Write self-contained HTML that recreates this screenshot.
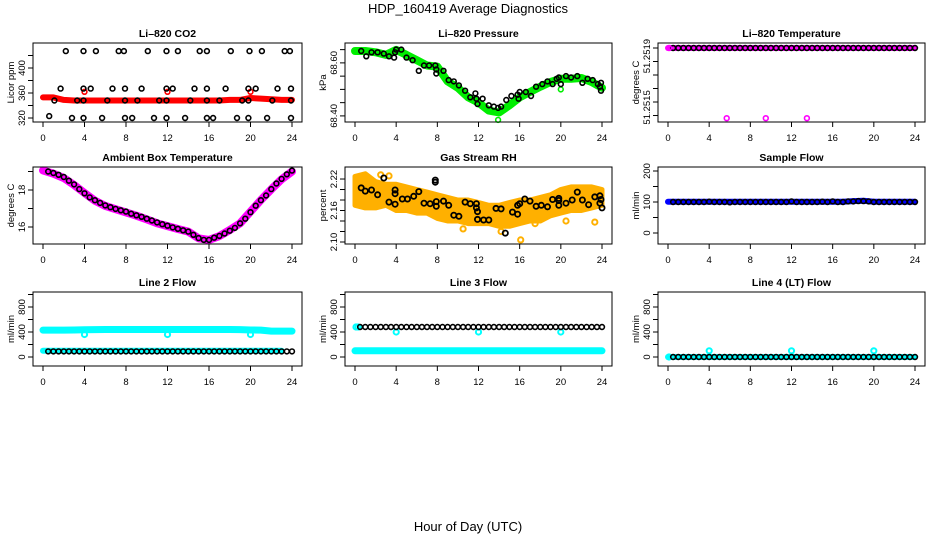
<!DOCTYPE html>
<html><head><meta charset="utf-8">
<style>
html,body{margin:0;padding:0;background:#fff;}
svg{display:block;font-family:"Liberation Sans",Arial,sans-serif;}
</style></head>
<body>
<svg id="fig" width="936" height="540" viewBox="0 0 936 540" xmlns="http://www.w3.org/2000/svg">
<text x="468" y="13" font-size="13" text-anchor="middle">HDP_160419  Average Diagnostics</text>
<text x="468" y="531" font-size="13" text-anchor="middle">Hour of Day (UTC)</text>
</svg>
<script>
// ---------- data ----------
const hours = [0,1,2,3,4,5,6,7,8,9,10,11,12,13,14,15,16,17,18,19,20,21,22,23,24];
const tMark = [0.5,1,1.5,2,2.5,3,3.5,4,4.5,5,5.5,6,6.5,7,7.5,8,8.5,9,9.5,10,10.5,11,11.5,12,12.5,13,13.5,14,14.5,15,15.5,16,16.5,17,17.5,18,18.5,19,19.5,20,20.5,21,21.5,22,22.5,23,23.5,24];
const xTicks = [0,4,8,12,16,20,24];

// CO2
const co2Band = [353,353,349,348,348,348,348,348,348,348,348,348,348,348,348,348,348,348,349,349,352,351,350,349,349];
const co2Times = [2.2,3.9,5.1,7.3,7.8,10.1,11.9,13.0,15.1,15.8,18.1,19.9,21.1,23.3,23.8, 1.7,3.9,4.6,6.7,7.9,9.5,11.9,12.5,14.6,15.8,17.6,19.8,20.5,22.6,23.9, 1.1,3.3,3.9,6.2,7.9,9.1,11.2,11.9,14.2,15.8,17.0,19.2,19.8,22.1,23.9, 0.6,2.8,3.9,5.7,7.9,8.6,10.7,11.9,13.7,15.8,16.4,18.7,19.8,21.6,23.9];
const co2Vals = [427,427,427,427,427,427,427,427,427,427,427,427,427,427,427, 367,367,367,367,367,367,367,367,367,367,367,367,367,367,367, 348,348,348,348,348,348,348,348,348,348,348,348,348,348,348, 323,320,320,320,320,320,320,320,320,320,320,320,320,320,320];
const co2OutT = [4,12,20];
const co2OutV = [362,362,362];

// Pressure
const presBand = [68.645,68.645,68.64,68.63,68.649,68.63,68.61,68.59,68.586,68.53,68.506,68.47,68.45,68.42,68.413,68.44,68.47,68.49,68.51,68.528,68.54,68.54,68.543,68.528,68.506];
const presTimes = [0.6,1.1,1.6,2.2,2.8,3.3,3.8,3.9,4.0,4.5,5.0,5.6,6.2,6.7,7.2,7.8,7.9,7.9,8.6,9.1,9.6,10.1,10.7,11.2,11.7,11.8,11.9,12.4,13.0,13.5,13.9,14.2,14.7,15.2,15.8,15.9,16.0,16.6,17.1,17.6,18.2,18.7,19.2,19.6,19.8,20.0,20.5,21.0,21.6,22.1,22.6,23.1,23.6,23.8,23.9,23.9];
const presVals = [68.645,68.625,68.64,68.64,68.635,68.625,68.62,68.64,68.65,68.65,68.62,68.61,68.57,68.59,68.59,68.59,68.575,68.56,68.57,68.535,68.53,68.515,68.495,68.47,68.485,68.465,68.445,68.465,68.44,68.435,68.43,68.435,68.46,68.475,68.48,68.465,68.49,68.49,68.475,68.51,68.52,68.53,68.52,68.54,68.545,68.52,68.55,68.545,68.55,68.525,68.54,68.535,68.52,68.51,68.525,68.495];
const presOutT = [20.0,13.9];
const presOutV = [68.50,68.385];

// Li-820 temperature
const tempBand = [51.2519,51.2519,51.2519,51.2519,51.2519,51.2519,51.2519,51.2519,51.2519,51.2519,51.2519,51.2519,51.2519,51.2519,51.2519,51.2519,51.2519,51.2519,51.2519,51.2519,51.2519,51.2519,51.2519,51.2519,51.2519];
const tempMark = [51.2519,51.2519,51.2519,51.2519,51.2519,51.2519,51.2519,51.2519,51.2519,51.2519,51.2519,51.2519,51.2519,51.2519,51.2519,51.2519,51.2519,51.2519,51.2519,51.2519,51.2519,51.2519,51.2519,51.2519,51.2519,51.2519,51.2519,51.2519,51.2519,51.2519,51.2519,51.2519,51.2519,51.2519,51.2519,51.2519,51.2519,51.2519,51.2519,51.2519,51.2519,51.2519,51.2519,51.2519,51.2519,51.2519,51.2519,51.2519];
const tempOutT = [0.1,5.7,9.5,13.5];
const tempOutV = [51.2519,51.25138,51.25138,51.25138];

// Ambient box temperature
const ambBand = [19.06,18.88,18.65,18.27,17.84,17.42,17.14,16.96,16.79,16.61,16.41,16.2,16.05,15.89,15.75,15.39,15.3,15.51,15.84,16.2,16.83,17.46,18.04,18.58,19.0];
const ambMark = [19.0,18.92,18.82,18.7,18.5,18.3,18.05,17.82,17.6,17.45,17.3,17.17,17.07,16.98,16.9,16.83,16.72,16.63,16.55,16.45,16.35,16.25,16.15,16.07,15.98,15.9,15.82,15.75,15.58,15.4,15.3,15.3,15.42,15.52,15.65,15.8,15.95,16.2,16.45,16.8,17.15,17.45,17.7,18.05,18.35,18.6,18.85,19.05];

// Gas stream RH
const rhUpper = [2.225,2.23,2.215,2.21,2.21,2.205,2.2,2.195,2.19,2.185,2.18,2.18,2.175,2.17,2.17,2.175,2.18,2.18,2.185,2.19,2.2,2.205,2.205,2.205,2.2];
const rhLower = [2.17,2.165,2.165,2.17,2.16,2.16,2.155,2.155,2.145,2.14,2.14,2.135,2.135,2.135,2.13,2.13,2.135,2.14,2.14,2.15,2.155,2.16,2.16,2.165,2.17];
const rhTimes = [0.6,1.0,1.6,2.2,2.8,3.3,3.9,3.9,3.9,4.6,5.1,5.7,6.2,6.7,7.3,7.8,7.8,7.9,7.9,8.6,9.1,9.6,10.1,10.7,11.2,11.8,11.8,11.9,11.9,12.5,13.0,13.7,14.2,14.6,15.3,15.8,15.8,16.0,16.5,17.0,17.6,18.1,18.7,19.2,19.8,19.8,19.8,20.5,21.1,21.6,22.1,22.7,23.3,23.8,23.8,23.9,24.0];
const rhVals = [2.203,2.197,2.199,2.190,2.222,2.176,2.199,2.192,2.172,2.182,2.182,2.187,2.196,2.174,2.173,2.218,2.214,2.177,2.168,2.178,2.170,2.151,2.149,2.176,2.173,2.173,2.165,2.158,2.143,2.142,2.142,2.164,2.163,2.117,2.157,2.153,2.170,2.173,2.182,2.178,2.168,2.170,2.167,2.181,2.170,2.183,2.179,2.174,2.180,2.195,2.180,2.171,2.186,2.188,2.174,2.181,2.165];
const rhOutT = [10.5,14.2,16.1,17.5,20.5,23.3,2.5,3.3,23.5];
const rhOutV = [2.125,2.12,2.104,2.135,2.14,2.138,2.228,2.226,2.195];

// Sample flow
const sampBand = [101,101,101,101,101,101,101,101,101,101,101,101,101,101,101,101,101,101,103,104,101,101,101,101,101];
const sampMark = [100,100,100,100,100,100,100,101,100,100,100,99,100,100,100,100,100,100,100,100,100,100,100,102,100,100,100,100,100,101,100,102,100,100,102,102,103,103,102,100,100,100,100,100,100,100,100,100];

// Line 2
const l2Top = [430,430,430,432,435,438,440,440,440,440,440,440,440,440,440,440,440,440,440,438,432,430,415,415,415];
const l2Low = [100,100,100,100,100,100,100,100,100,100,100,100,100,100,100,100,100,100,100,100,100,100,100,100,100];
const l2Mark = [90,90,90,90,90,90,90,90,90,90,90,90,90,90,90,90,90,90,90,90,90,90,90,90,90,90,90,90,90,90,90,90,90,90,90,90,90,90,90,90,90,90,90,90,90,90,90,90];
const l2OutT = [4,12,20];
const l2OutV = [360,360,360];

// Line 3
const l3Low = [100,100,100,100,100,100,100,100,100,100,100,100,100,100,100,100,100,100,100,100,100,100,100,100,100];
const l3Mark = [480,480,480,480,480,480,480,480,480,480,480,480,480,480,480,480,480,480,480,480,480,480,480,480,480,480,480,480,480,480,480,480,480,480,480,480,480,480,480,480,480,480,480,480,480,480,480,480];
const l3OutT = [0.1,0.3,4,12,20];
const l3OutV = [480,480,400,400,400];

// Line 4
const l4Low = [0,0,0,0,0,0,0,0,0,0,0,0,0,0,0,0,0,0,0,0,0,0,0,0,0];
const l4Mark = [0,0,0,0,0,0,0,0,0,0,0,0,0,0,0,0,0,0,0,0,0,0,0,0,0,0,0,0,0,0,0,0,0,0,0,0,0,0,0,0,0,0,0,0,0,0,0,0];
const l4OutT = [0.1,4,12,20];
const l4OutV = [0,100,100,100];

// ---------- drawing ----------
const NS = 'http://www.w3.org/2000/svg';
const svg = document.getElementById('fig');
function mk(tag, name, parent, attrs) {
  const el = document.createElementNS(NS, tag);
  
  
  for (const k in attrs) el.setAttribute(k, attrs[k]);
  (parent || svg).appendChild(el);
  return el;
}
const cols = [33, 345, 658];
const rows = [[43,122],[167,244],[292,366]];
const W = [269, 267, 267];

function makePanel(ci, ri, id, title, ylab, ymin, ymax, yTicks, yLabels) {
  const L = cols[ci], T = rows[ri][0], B = rows[ri][1], R = L + W[ci];
  const g = mk('g', id + '-panel', svg, {});
  const sx = h => L + 10 + h * (R - L - 20) / 24;
  const sy = v => B - (v - ymin) / (ymax - ymin) * (B - T);
  mk('text', id + '-title', g, {x:(L+R)/2, y:T-6, 'font-size':10.5, 'font-weight':'bold', 'text-anchor':'middle'}).textContent = title;
  const clip = mk('g', id + '-plot-area', g, {});
  const xa = mk('g', id + '-x-axis', g, {});
  xTicks.forEach(h => {
    mk('line', id + '-x-tick', xa, {x1:sx(h), x2:sx(h), y1:B, y2:B+5, stroke:'#000', 'stroke-width':1});
    mk('text', id + '-x-tick-label', xa, {x:sx(h), y:B+19, 'font-size':9.5, 'text-anchor':'middle'}).textContent = h;
  });
  const ya = mk('g', id + '-y-axis', g, {});
  yTicks.forEach(v => {
    mk('line', id + '-y-tick', ya, {x1:L-5, x2:L, y1:sy(v), y2:sy(v), stroke:'#000', 'stroke-width':1});
  });
  yLabels.forEach(p => {
    const y = sy(p[0]);
    mk('text', id + '-y-tick-label', ya, {x:0, y:0, transform:`translate(${L-8},${y}) rotate(-90)`, 'font-size':9.5, 'text-anchor':'middle'}).textContent = p[1];
  });
  mk('text', id + '-y-axis-title', g, {x:0, y:0, transform:`translate(${L-19},${(T+B)/2}) rotate(-90)`, 'font-size':9.5, 'text-anchor':'middle'}).textContent = ylab;
  mk('rect', id + '-frame', g, {x:L, y:T, width:R-L, height:B-T, fill:'none', stroke:'#000', 'stroke-width':1});
  return {g:clip, sx, sy, id};
}
function band(p, xs, ys, color, w, name) {
  const pts = xs.map((h,i) => p.sx(h).toFixed(1) + ',' + p.sy(ys[i]).toFixed(1)).join(' ');
  mk('polyline', p.id + '-' + name, p.g, {points:pts, fill:'none', stroke:color, 'stroke-width':w, 'stroke-linejoin':'round', 'stroke-linecap':'round'});
}
function pts(p, xs, ys, color, name, r, sw) {
  const gg = mk('g', p.id + '-' + name, p.g, {});
  xs.forEach((h,i) => {
    mk('circle', p.id + '-point', gg, {cx:p.sx(h).toFixed(1), cy:p.sy(ys[i]).toFixed(1), r:r||2.4, fill:'none', stroke:color, 'stroke-width':sw||1.6});
  });
}

// Row 1
let p = makePanel(0,0,'co2','Li\u2013820 CO2','Licor ppm',313.6,440,[320,340,360,380,400,420],[[320,'320'],[360,'360'],[400,'400']]);
band(p, hours, co2Band, '#ff0000', 6, 'co2-band');
pts(p, co2OutT, co2OutV, '#ff0000', 'co2-red-points');
pts(p, co2Times, co2Vals, '#000', 'co2-black-points');

p = makePanel(1,0,'pressure','Li\u2013820 Pressure','kPa',68.377,68.675,[68.40,68.45,68.50,68.55,68.60,68.65],[[68.40,'68.40'],[68.60,'68.60']]);
band(p, hours, presBand, '#00ee00', 8, 'pressure-band');
pts(p, presOutT, presOutV, '#00ee00', 'pressure-green-points');
pts(p, presTimes, presVals, '#000', 'pressure-black-points');

p = makePanel(2,0,'li820-temp','Li\u2013820 Temperature','degrees C',51.251352,51.251937,[51.2514,51.2515,51.2516,51.2517,51.2518,51.2519],[[51.25146,'51.2515'],[51.25184,'51.2519']]);
band(p, hours, tempBand, '#ff00ff', 6, 'temp-band');
pts(p, tMark, tempMark, '#000', 'temp-black-points');
pts(p, tempOutT, tempOutV, '#ff00ff', 'temp-magenta-points');

// Row 2
p = makePanel(0,1,'ambient','Ambient Box Temperature','degrees C',15.081,19.243,[16,17,18,19],[[16,'16'],[18,'18']]);
band(p, hours, ambBand, '#ff00ff', 8, 'ambient-band');
pts(p, tMark, ambMark, '#000', 'ambient-black-points');

p = makePanel(1,1,'rh','Gas Stream RH','percent',2.0962,2.2429,[2.10,2.12,2.14,2.16,2.18,2.20,2.22],[[2.10,'2.10'],[2.16,'2.16'],[2.22,'2.22']]);
{
  const up = hours.map((h,i)=>p.sx(h).toFixed(1)+','+p.sy(rhUpper[i]).toFixed(1));
  const lo = hours.map((h,i)=>p.sx(h).toFixed(1)+','+p.sy(rhLower[i]).toFixed(1)).reverse();
  mk('polygon', 'rh-band', p.g, {points:up.concat(lo).join(' '), fill:'#ffb000', stroke:'#ffb000', 'stroke-width':5, 'stroke-linejoin':'round'});
}
pts(p, rhOutT, rhOutV, '#ffb000', 'rh-orange-points', 2.6, 2);
pts(p, rhTimes, rhVals, '#000', 'rh-black-points', 2.6, 1.8);

p = makePanel(2,1,'sample-flow','Sample Flow','ml/min',-35.5,212.9,[0,50,100,150,200],[[0,'0'],[100,'100'],[200,'200']]);
band(p, hours, sampBand, '#0000ff', 6, 'sample-band');
pts(p, tMark, sampMark, '#000', 'sample-black-points');

// Row 3
const flowTicks = [0,200,400,600,800,1000];
const flowLabels = [[0,'0'],[400,'400'],[800,'800']];
p = makePanel(0,2,'line2','Line 2 Flow','ml/min',-144,1040,flowTicks,flowLabels);
band(p, hours, l2Top, '#00ffff', 7, 'line2-upper-band');
band(p, hours.slice(0,24), l2Low.slice(0,24), '#00ffff', 6, 'line2-lower-band');
pts(p, l2OutT, l2OutV, '#00ffff', 'line2-cyan-points', 2.6, 2);
pts(p, tMark, l2Mark, '#000', 'line2-black-points');

p = makePanel(1,2,'line3','Line 3 Flow','ml/min',-144,1040,flowTicks,flowLabels);
band(p, hours, l3Low, '#00ffff', 7, 'line3-band');
pts(p, l3OutT, l3OutV, '#00ffff', 'line3-cyan-points', 2.6, 2);
pts(p, tMark, l3Mark, '#000', 'line3-black-points');

p = makePanel(2,2,'line4','Line 4 (LT) Flow','ml/min',-144,1040,flowTicks,flowLabels);
band(p, hours, l4Low, '#00ffff', 6, 'line4-band');
pts(p, l4OutT, l4OutV, '#00ffff', 'line4-cyan-points', 2.6, 2);
pts(p, tMark, l4Mark, '#000', 'line4-black-points');
</script>
</body></html>
